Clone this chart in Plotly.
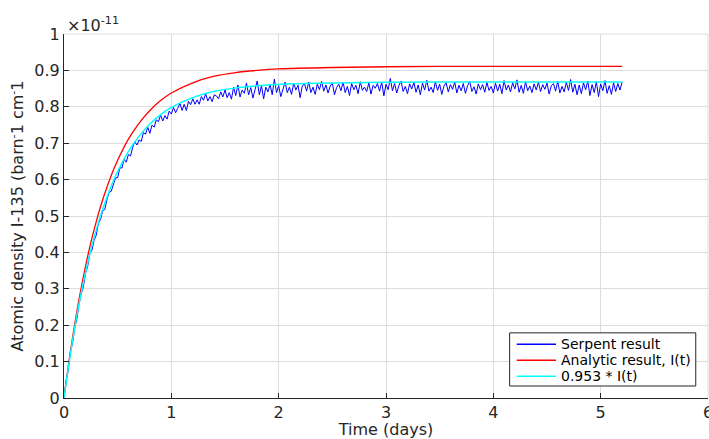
import numpy as np
import plotly.graph_objects as go

# Serpent burnup output, I-135 atomic density (units of 1e-11 / barn-cm), every 0.02 d
SERPENT_DT = 0.02
serpent_density = [
    0.000, 0.048, 0.077, 0.127, 0.152, 0.193, 0.217, 0.259, 0.286, 0.305,
    0.342, 0.361, 0.396, 0.406, 0.433, 0.447, 0.479, 0.490, 0.514, 0.518,
    0.545, 0.565, 0.568, 0.585, 0.605, 0.605, 0.632, 0.632, 0.656, 0.648,
    0.669, 0.665, 0.689, 0.704, 0.695, 0.709, 0.705, 0.729, 0.725, 0.744,
    0.727, 0.750, 0.744, 0.764, 0.759, 0.778, 0.761, 0.776, 0.766, 0.788,
    0.780, 0.798, 0.784, 0.796, 0.809, 0.790, 0.807, 0.790, 0.815, 0.806,
    0.822, 0.807, 0.819, 0.807, 0.828, 0.818, 0.836, 0.816, 0.828, 0.814,
    0.833, 0.830, 0.822, 0.841, 0.827, 0.846, 0.825, 0.839, 0.821, 0.854,
    0.831, 0.860, 0.827, 0.846, 0.837, 0.865, 0.833, 0.853, 0.824, 0.847,
    0.871, 0.833, 0.858, 0.822, 0.854, 0.841, 0.861, 0.833, 0.876, 0.839,
    0.858, 0.828, 0.850, 0.868, 0.839, 0.854, 0.834, 0.865, 0.846, 0.859,
    0.825, 0.857, 0.864, 0.843, 0.868, 0.839, 0.854, 0.834, 0.862, 0.847,
    0.870, 0.843, 0.860, 0.838, 0.857, 0.865, 0.833, 0.853, 0.862, 0.844,
    0.868, 0.839, 0.856, 0.831, 0.864, 0.847, 0.859, 0.836, 0.869, 0.845,
    0.854, 0.842, 0.866, 0.835, 0.859, 0.851, 0.864, 0.843, 0.868, 0.830,
    0.862, 0.847, 0.878, 0.844, 0.864, 0.838, 0.858, 0.871, 0.842, 0.856,
    0.836, 0.863, 0.849, 0.867, 0.840, 0.860, 0.833, 0.865, 0.846, 0.873,
    0.843, 0.854, 0.839, 0.869, 0.845, 0.862, 0.834, 0.857, 0.866, 0.841,
    0.861, 0.848, 0.868, 0.838, 0.859, 0.844, 0.864, 0.837, 0.858, 0.870,
    0.842, 0.855, 0.835, 0.863, 0.847, 0.861, 0.840, 0.867, 0.845, 0.856,
    0.838, 0.865, 0.843, 0.862, 0.836, 0.872, 0.846, 0.860, 0.841, 0.866,
    0.849, 0.874, 0.840, 0.859, 0.837, 0.869, 0.844, 0.857, 0.839, 0.863,
    0.846, 0.868, 0.842, 0.861, 0.848, 0.865, 0.835, 0.858, 0.864, 0.843,
    0.870, 0.838, 0.856, 0.841, 0.867, 0.845, 0.875, 0.840, 0.862, 0.833,
    0.860, 0.836, 0.866, 0.847, 0.871, 0.831, 0.861, 0.839, 0.869, 0.828,
    0.863, 0.844, 0.872, 0.837, 0.858, 0.834, 0.866, 0.842, 0.864, 0.846,
    0.868,
]
serpent_time = np.arange(len(serpent_density)) * SERPENT_DT

# Analytic solution I(t) sampled in days
analytic_time = [0, 0.05, 0.1, 0.15, 0.2, 0.25, 0.3, 0.35, 0.4, 0.45, 0.5,
                 0.6, 0.7, 0.8, 0.9, 1.0, 1.2, 1.4, 1.6, 1.8, 2.0, 2.5,
                 3.0, 3.5, 4.0, 5.2]
analytic_density = [0.000, 0.108, 0.203, 0.287, 0.361, 0.427, 0.484, 0.535,
                    0.579, 0.619, 0.653, 0.711, 0.755, 0.790, 0.817, 0.838,
                    0.866, 0.884, 0.894, 0.900, 0.904, 0.908, 0.910, 0.911,
                    0.911, 0.911]

# Scale factor applied to the analytic curve
SCALE = 0.953
scaled_density = [SCALE * v for v in analytic_density]

x_ticks = [0, 1, 2, 3, 4, 5, 6]
y_ticks = [0, 0.1, 0.2, 0.3, 0.4, 0.5, 0.6, 0.7, 0.8, 0.9, 1]
y_tick_text = ["0", "0.1", "0.2", "0.3", "0.4", "0.5", "0.6", "0.7", "0.8", "0.9", "1"]

FONT = "DejaVu Sans"
INK = "#262626"
GRID = "#dddddd"

series = [
    dict(name="Serpent result", color="#0000ff", width=1),
    dict(name="Analytic result, I(t)", color="#ff0000", width=1.3),
    dict(name=f"{SCALE} * I(t)", color="#00ffff", width=1.5),
]

fig = go.Figure()
fig.add_trace(go.Scatter(x=serpent_time, y=serpent_density, mode="lines",
                         name=series[0]["name"],
                         line=dict(color=series[0]["color"], width=series[0]["width"])))
fig.add_trace(go.Scatter(x=analytic_time, y=analytic_density, mode="lines",
                         name=series[1]["name"],
                         line=dict(color=series[1]["color"], width=series[1]["width"],
                                   shape="spline")))
fig.add_trace(go.Scatter(x=analytic_time, y=scaled_density, mode="lines",
                         name=series[2]["name"],
                         line=dict(color=series[2]["color"], width=series[2]["width"],
                                   shape="spline")))

# Compact boxed legend in the lower-right corner (paper coordinates)
LEG_X0, LEG_X1, LEG_Y0, LEG_Y1 = 0.692, 0.981, 0.033, 0.179
LEG_ROWS = [0.148, 0.104, 0.060]
LEG_LINE_X0, LEG_LINE_X1, LEG_TEXT_X = 0.703, 0.764, 0.768

shapes = [
    # light frame on the top and right edges of the axes box
    dict(type="line", xref="paper", yref="paper", x0=0, x1=1, y0=1, y1=1,
         line=dict(color=GRID, width=1), layer="below"),
    dict(type="line", xref="paper", yref="paper", x0=1, x1=1, y0=0, y1=1,
         line=dict(color=GRID, width=1), layer="below"),
    dict(type="rect", xref="paper", yref="paper", x0=LEG_X0, x1=LEG_X1,
         y0=LEG_Y0, y1=LEG_Y1, line=dict(color=INK, width=1),
         fillcolor="white", layer="above"),
]
annotations = [dict(text="×10<sup>-11</sup>", xref="paper", yref="paper",
                    x=0, y=1, xanchor="left", yanchor="bottom",
                    xshift=1, yshift=-3, showarrow=False,
                    font=dict(family=FONT, size=16, color=INK))]
for s, ry in zip(series, LEG_ROWS):
    shapes.append(dict(type="line", xref="paper", yref="paper",
                       x0=LEG_LINE_X0, x1=LEG_LINE_X1, y0=ry, y1=ry,
                       line=dict(color=s["color"], width=1.5), layer="above"))
    annotations.append(dict(text=s["name"], xref="paper", yref="paper",
                            x=LEG_TEXT_X, y=ry, xanchor="left", yanchor="middle",
                            showarrow=False,
                            font=dict(family=FONT, size=14, color="black")))

fig.update_layout(
    width=709, height=439,
    margin=dict(l=64, r=1, t=34, b=41),
    paper_bgcolor="white", plot_bgcolor="white",
    font=dict(family=FONT, size=16, color=INK),
    showlegend=False,
    shapes=shapes,
    annotations=annotations,
)
fig.update_xaxes(range=[0, 6], tickvals=x_ticks, ticks="inside", ticklen=5,
                 tickcolor=INK, showline=True, linecolor=INK, linewidth=1,
                 showgrid=True, gridcolor=GRID, gridwidth=1, zeroline=False,
                 ticklabeloverflow="allow", automargin=False,
                 title=dict(text="Time (days)", standoff=6,
                            font=dict(family=FONT, size=16, color=INK)))
fig.update_yaxes(range=[0, 1], tickvals=y_ticks, ticktext=y_tick_text,
                 ticks="inside", ticklen=5, tickcolor=INK, showline=True,
                 linecolor=INK, linewidth=1, showgrid=True, gridcolor=GRID,
                 gridwidth=1, zeroline=False, automargin=False,
                 title=dict(text="Atomic density I-135 (barn<sup>-</sup>1 cm<sup>-</sup>1",
                            standoff=6,
                            font=dict(family=FONT, size=16, color=INK)))

fig.write_html("out.html")
